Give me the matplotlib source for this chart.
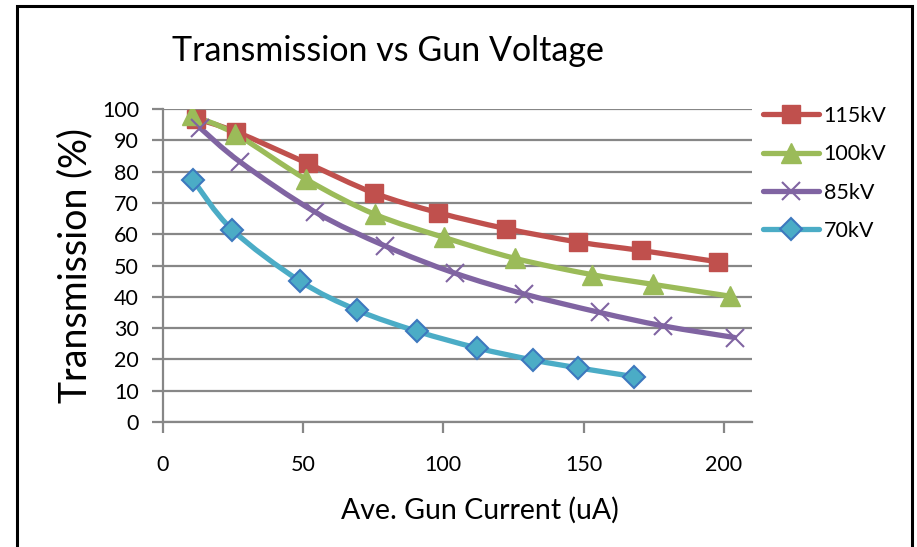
import matplotlib
matplotlib.use("Agg")
import matplotlib.pyplot as plt
from matplotlib.path import Path
from matplotlib.patches import PathPatch
from matplotlib.lines import Line2D
import numpy as np

plt.rcParams['font.family'] = ['Lato', 'DejaVu Sans']

# values
x_115 = [11.9, 26.2, 51.7, 75.2, 98.2, 122.3, 148.1, 170.5, 197.8]
y_115 = [96.9, 92.7, 82.6, 73.2, 66.9, 61.8, 57.5, 54.8, 51.2]
x_100 = [10.4, 25.8, 51.2, 75.5, 100.2, 125.5, 152.9, 174.6, 202.2]
y_100 = [98.0, 92.1, 77.5, 66.4, 59.0, 52.3, 47.1, 44.0, 40.2]
x_85 = [13.3, 27.6, 54.3, 79.4, 104.0, 128.8, 155.8, 178.4, 203.8]
y_85 = [94.0, 83.1, 67.1, 56.2, 47.6, 40.9, 35.0, 30.7, 27.0]
x_70 = [10.9, 24.7, 48.8, 69.4, 90.6, 111.9, 132.0, 148.1, 168.1]
y_70 = [77.2, 61.5, 45.1, 35.7, 29.0, 23.7, 19.8, 17.3, 14.5]

labels = ["115kV", "100kV", "85kV", "70kV"]
colors = ["#C0504D", "#9BBB59", "#8064A2", "#4BACC6"]


def smooth_path(xs, ys):
    # excel-style smoothed line: bezier segments through the points
    p = np.column_stack([xs, ys])
    n = len(p)
    verts = [p[0]]
    codes = [Path.MOVETO]
    for i in range(n - 1):
        p0 = p[i - 1] if i > 0 else p[i]
        p3 = p[i + 2] if i + 2 < n else p[i + 1]
        c1 = p[i] + (p[i + 1] - p0) / 6.0
        c2 = p[i + 1] - (p3 - p[i]) / 6.0
        verts += [c1, c2, p[i + 1]]
        codes += [Path.CURVE4] * 3
    return Path(verts, codes)


fig = plt.figure(figsize=(9.17, 5.47), dpi=100)
ax = fig.add_axes([0.1774, 0.2285, 0.820 - 0.1774, 0.8007 - 0.2285])

series = [(x_115, y_115), (x_100, y_100), (x_85, y_85), (x_70, y_70)]
mk = [dict(marker="s", ms=13, mfc=colors[0], mec=colors[0]),
      dict(marker="^", ms=14, mfc=colors[1], mec=colors[1]),
      dict(marker="x", ms=13, mec=colors[2], mew=1.5),
      dict(marker="D", ms=11, mfc=colors[3], mec="#3D78BE", mew=1.5)]

handles = []
for (xs, ys), c, m, lab in zip(series, colors, mk, labels):
    ax.add_patch(PathPatch(smooth_path(xs, ys), fill=False, edgecolor=c, lw=3.8,
                           capstyle="round", joinstyle="round", zorder=3))
    ax.plot(xs, ys, linestyle="none", zorder=4, **m)
    handles.append(Line2D([0], [0], color=c, lw=3.8, solid_capstyle="round", **m))

ax.set_xlim(0, 210)
ax.set_ylim(0, 100)
ax.set_xticks([0, 50, 100, 150, 200])
ax.set_yticks(range(0, 101, 10))
ax.yaxis.grid(True, color="#878787", lw=1.6)
ax.set_axisbelow(True)
for s in ["top", "right"]:
    ax.spines[s].set_visible(False)
for s in ["left", "bottom"]:
    ax.spines[s].set_color("#878787")
    ax.spines[s].set_linewidth(1.6)
ax.tick_params(axis="both", direction="out", length=8, width=1.6, color="#878787",
               labelsize=15.5)
ax.tick_params(axis="y", pad=9)
ax.tick_params(axis="x", pad=16)

ax.set_xlabel("Ave. Gun Current (uA)", fontsize=20.5)
ax.xaxis.set_label_coords(0.538, -0.24)
ax.set_ylabel("Transmission (%)", fontsize=27, labelpad=6)
fig.text(0.423, 0.907, "Transmission vs Gun Voltage", fontsize=24.5, ha="center", va="center")

fig.legend(handles, labels, loc="upper left", bbox_to_anchor=(0.823, 0.822),
           frameon=False, fontsize=15.5, handlelength=2.6, handletextpad=0.2,
           labelspacing=0.85, borderaxespad=0)

# chart border
fig.add_artist(plt.Rectangle((17 / 917, -0.02), (912 - 17) / 917, 1 - 6 / 547 + 0.02,
                             transform=fig.transFigure, fill=False, edgecolor="black", lw=2.2))

fig.savefig("out.png", dpi=100)
